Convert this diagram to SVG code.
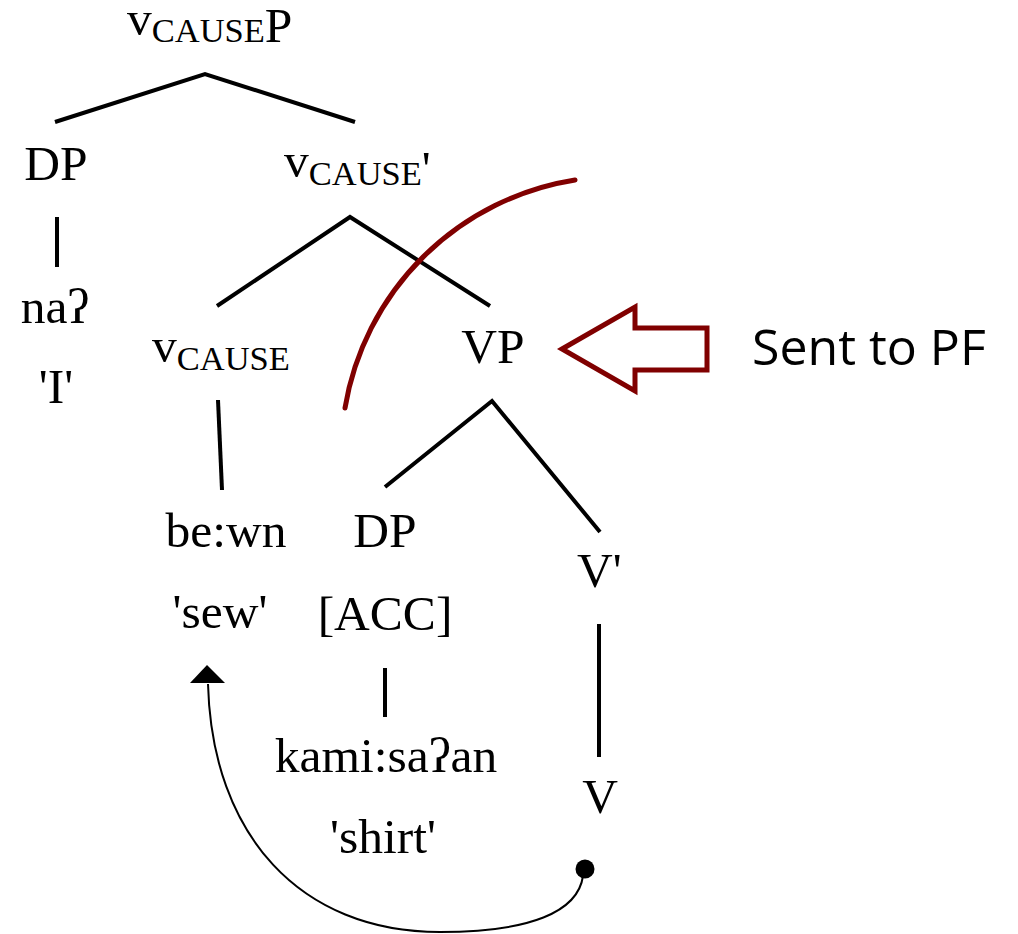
<svg xmlns="http://www.w3.org/2000/svg" width="1018" height="934" viewBox="0 0 1018 934">
  <style>
    .lbl { font-family: "Liberation Serif", "Times New Roman", "DejaVu Serif", serif; font-size: 49.5px; fill: #000; }
    .sc { font-size: 34.5px; }
    .mid { text-anchor: middle; }
    .branch { fill: none; stroke: #000; stroke-width: 4; stroke-linecap: butt; stroke-linejoin: miter; }
    .spell { fill: none; stroke: #800000; stroke-width: 5; stroke-linecap: round; }
    .note { font-family: "Open Sans", "Liberation Sans", sans-serif; font-size: 50px; fill: #000; }
  </style>
  <rect width="1018" height="934" fill="#fff"/>

  <!-- tree branches and movement arrow -->
  <g id="connectors">
    <polyline class="branch" points="55,122 205,74 355,122"/>
    <line class="branch" x1="57" y1="217" x2="57" y2="267"/>
    <polyline class="branch" points="217,306 350,217 490,306"/>
    <line class="branch" x1="218" y1="400" x2="222" y2="490"/>
    <polyline class="branch" points="385,487 492,401 600,532"/>
    <line class="branch" x1="385" y1="668" x2="385" y2="717"/>
    <line class="branch" x1="599" y1="624" x2="599" y2="757"/>
    <!-- head movement: V raises to vCAUSE -->
    <circle cx="585" cy="869" r="9.5" fill="#000"/>
    <path d="M583,876 C578,912 530,932 440,932 C300,932 212,835 208,684" fill="none" stroke="#000" stroke-width="2"/>
    <polygon points="207,665 190,683 225,683" fill="#000"/>
    <!-- spell-out boundary -->
    <path class="spell" d="M345,408 A277,277 0 0 1 575,180"/>
    <polygon points="562,349 635,307 635,328 707,328 707,370 635,370 635,391" fill="none" stroke="#800000" stroke-width="5" stroke-linejoin="miter"/>
  </g>

  <g id="vcauseP"><text class="lbl" x="127" y="35">v<tspan class="sc" dy="7">CAUSE</tspan><tspan>P</tspan></text></g>
  <g id="dp-subject"><text class="lbl mid" x="56" y="180">DP</text></g>
  <g id="na"><text class="lbl mid" x="55" y="323">naʔ</text></g>
  <g id="gloss-I"><text class="lbl mid" x="56" y="403">'I'</text></g>
  <g id="vcause-bar"><text class="lbl" x="284" y="177">v<tspan class="sc" dy="8">CAUSE</tspan><tspan>'</tspan></text></g>
  <g id="vcause"><text class="lbl" x="152" y="362">v<tspan class="sc" dy="8">CAUSE</tspan></text></g>
  <g id="vp"><text class="lbl mid" x="493" y="363">VP</text></g>
  <g id="bewn"><text class="lbl mid" x="226" y="547">be:wn</text></g>
  <g id="gloss-sew"><text class="lbl mid" x="220" y="628">'sew'</text></g>
  <g id="dp-object"><text class="lbl mid" x="385" y="547">DP</text></g>
  <g id="acc"><text class="lbl mid" x="385" y="630">[ACC]</text></g>
  <g id="kamisaan"><text class="lbl mid" x="386" y="772">kami:saʔan</text></g>
  <g id="gloss-shirt"><text class="lbl mid" x="383" y="853">'shirt'</text></g>
  <g id="v-bar"><text class="lbl" x="577" y="587">V'</text></g>
  <g id="v-head"><text class="lbl mid" x="600" y="813">V</text></g>
  <g id="sent-to-pf"><text class="note" x="752" y="365">Sent to PF</text></g>
</svg>
